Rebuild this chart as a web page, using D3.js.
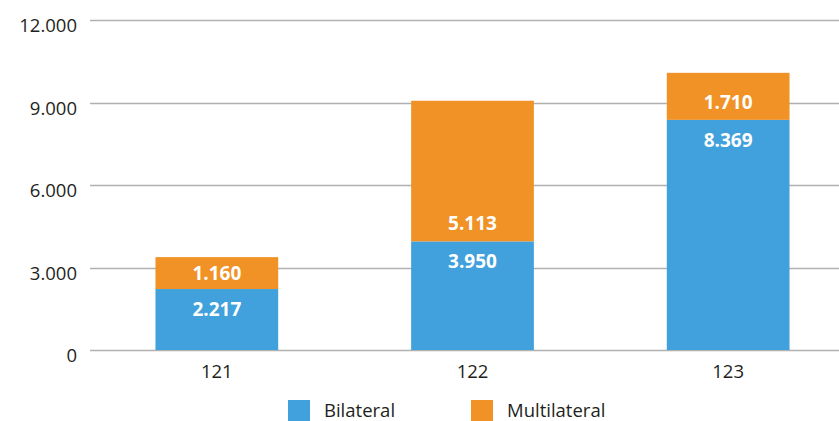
<!DOCTYPE html>
<html><head><meta charset="utf-8">
<script src="https://cdn.jsdelivr.net/npm/d3@7"></script>
<style>body{margin:0;background:#fff}svg{display:block}</style>
</head><body><svg id="c" width="839" height="421"></svg>
<script>
const categories = ["121", "122", "123"];
const bilateral = [2217, 3950, 8369];
const multilateral = [1160, 5113, 1710];
const yTicks = [0, 3000, 6000, 9000, 12000];
const seriesNames = ["Bilateral", "Multilateral"];
const colors = ["#40A1DC", "#F09226"];

const svg = d3.select("#c");
const font = "'Open Sans', sans-serif";
const fmt = v => d3.format(",")(v).replace(/,/g, ".");

const y = d3.scaleLinear().domain([0, 12000]).range([350, 20]);
const x = d3.scaleBand().domain(categories).range([89, 856]).paddingInner(0.52).paddingOuter(0.26);

// gridlines
svg.append("g").selectAll("line").data(yTicks).join("line")
  .attr("x1", 90).attr("x2", 839)
  .attr("y1", d => Math.round(y(d)) + 0.5).attr("y2", d => Math.round(y(d)) + 0.5)
  .attr("stroke", "#b0b0b0").attr("stroke-width", 1.6);

svg.append("g").selectAll("text").data(yTicks).join("text")
  .attr("x", 77).attr("y", d => y(d) + 12)
  .attr("text-anchor", "end").attr("font-family", font).attr("font-size", 18.5)
  .attr("fill", "#231f20").text(d => fmt(d));

const data = categories.map((c, i) => ({c, b: bilateral[i], m: multilateral[i]}));
const stack = d3.stack().keys(["b", "m"])(data);

const g = svg.append("g");
stack.forEach((s, si) => {
  g.selectAll(null).data(s).join("rect")
    .attr("x", d => x(d.data.c)).attr("width", x.bandwidth())
    .attr("y", d => y(d[1])).attr("height", d => y(d[0]) - y(d[1]))
    .attr("fill", colors[si]);
});
// bilateral labels: inside end
g.selectAll(null).data(stack[0]).join("text")
  .attr("x", d => x(d.data.c) + x.bandwidth() / 2)
  .attr("y", d => y(d[1]) + 27)
  .attr("text-anchor", "middle").attr("font-family", font).attr("font-weight", "bold")
  .attr("font-size", 19).attr("fill", "#fff").text(d => fmt(d[1] - d[0]));
// multilateral labels
g.selectAll(null).data(stack[1]).join("text")
  .attr("x", d => x(d.data.c) + x.bandwidth() / 2)
  .attr("y", d => Math.max((y(d[0]) + y(d[1])) / 2, y(d[0]) - 18) + 7)
  .attr("text-anchor", "middle").attr("font-family", font).attr("font-weight", "bold")
  .attr("font-size", 19).attr("fill", "#fff").text(d => fmt(d[1] - d[0]));

// x labels
svg.append("g").selectAll("text").data(categories).join("text")
  .attr("x", d => x(d) + x.bandwidth() / 2).attr("y", 378)
  .attr("text-anchor", "middle").attr("font-family", font).attr("font-size", 18.5)
  .attr("fill", "#231f20").text(d => d);

// legend
const legX = [288, 471];
const lg = svg.append("g");
seriesNames.forEach((n, i) => {
  lg.append("rect").attr("x", legX[i]).attr("y", 400).attr("width", 22).attr("height", 21).attr("fill", colors[i]);
  lg.append("text").attr("x", legX[i] + 36).attr("y", 417).attr("font-family", font)
    .attr("font-size", 18.5).attr("fill", "#231f20").text(n);
});
</script></body></html>
